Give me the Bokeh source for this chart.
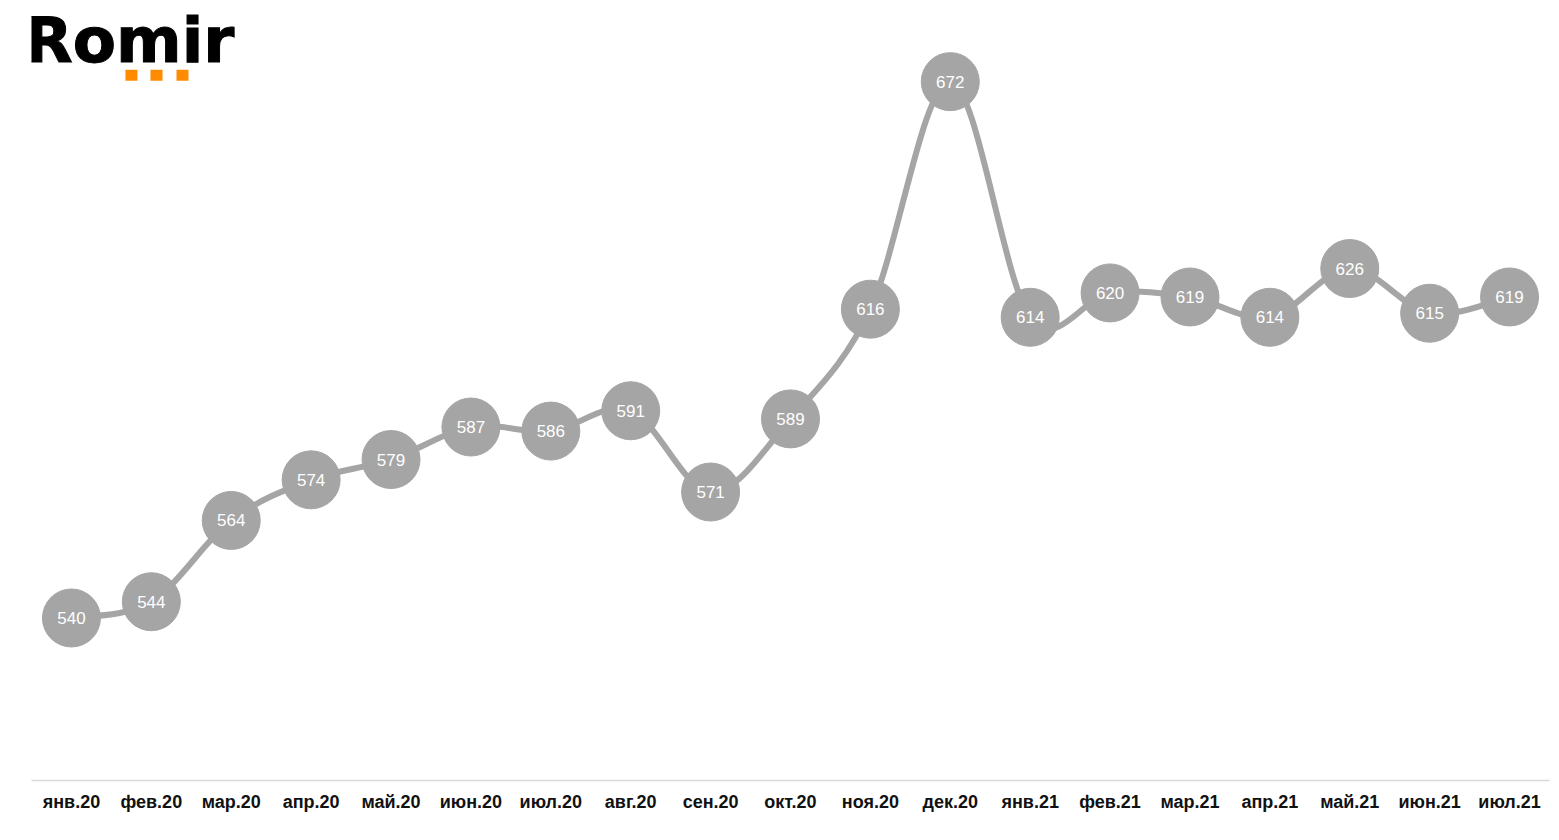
from bokeh.plotting import figure
from bokeh.models import Range1d, FixedTicker, Label, BoxAnnotation, ColumnDataSource
from bokeh.core.properties import value
from bokeh.embed import file_html
from bokeh.resources import INLINE

months = ["янв.20", "фев.20", "мар.20", "апр.20", "май.20", "июн.20", "июл.20",
          "авг.20", "сен.20", "окт.20", "ноя.20", "дек.20", "янв.21", "фев.21",
          "мар.21", "апр.21", "май.21", "июн.21", "июл.21"]
values = [540, 544, 564, 574, 579, 587, 586, 591, 571, 589, 616, 672, 614, 620,
          619, 614, 626, 615, 619]

GRAY = "#a5a5a5"
FONT = "Liberation Sans"

xs = list(range(len(values)))

p = figure(width=1559, height=825, output_backend="svg", toolbar_location=None,
           x_range=Range1d(-0.5, 18.5), y_range=Range1d(500, 690),
           min_border_left=31, min_border_right=10, min_border_top=8,
           min_border_bottom=45)
p.outline_line_color = None
p.xgrid.visible = False
p.ygrid.visible = False
p.yaxis.visible = False
p.background_fill_color = "white"
p.border_fill_color = "white"

ax = p.xaxis[0]
ax.ticker = FixedTicker(ticks=xs)
ax.major_label_overrides = {i: m for i, m in enumerate(months)}
ax.axis_line_color = "#d9d9d9"
ax.axis_line_width = 1.5
ax.major_tick_line_color = None
ax.minor_tick_line_color = None
ax.major_label_text_font = FONT
ax.major_label_text_font_style = "bold"
ax.major_label_text_font_size = "18px"
ax.major_label_text_color = "#111111"
ax.major_label_standoff = 5

# smoothed line (Catmull-Rom style bezier segments, as in a smoothed spreadsheet line)
n = len(values)
x0, y0, x1, y1, cx0, cy0, cx1, cy1 = [], [], [], [], [], [], [], []
for i in range(n - 1):
    pm = i - 1 if i > 0 else i
    pp = i + 2 if i + 2 < n else i + 1
    x0.append(xs[i]); y0.append(values[i])
    x1.append(xs[i + 1]); y1.append(values[i + 1])
    cx0.append(xs[i] + (xs[i + 1] - xs[pm]) / 6.0)
    cy0.append(values[i] + (values[i + 1] - values[pm]) / 6.0)
    cx1.append(xs[i + 1] - (xs[pp] - xs[i]) / 6.0)
    cy1.append(values[i + 1] - (values[pp] - values[i]) / 6.0)
p.bezier(x0=x0, y0=y0, x1=x1, y1=y1, cx0=cx0, cy0=cy0, cx1=cx1, cy1=cy1,
         line_color=GRAY, line_width=6, line_cap="round")

src = ColumnDataSource(dict(x=xs, y=values, t=[str(v) for v in values]))
p.scatter("x", "y", source=src, size=58, fill_color=GRAY, line_color=GRAY)
p.text("x", "y", text="t", source=src, text_color="white",
       text_font=value(FONT), text_font_size="17px",
       text_align="center", text_baseline="middle")

# logo
p.add_layout(Label(x=-0.59, y=682.2, text="Romir", text_font="DejaVu Sans",
                   text_font_style="bold", text_font_size="63px",
                   text_color="black", text_outline_color="black",
                   text_baseline="alphabetic"))
for l, r in [(0.676, 0.826), (0.989, 1.14), (1.315, 1.465)]:
    p.add_layout(BoxAnnotation(left=l, right=r, bottom=672.2, top=674.9,
                               fill_color="#ff8c00", fill_alpha=1.0,
                               line_color=None))

open("out.html", "w").write(file_html(p, INLINE))
